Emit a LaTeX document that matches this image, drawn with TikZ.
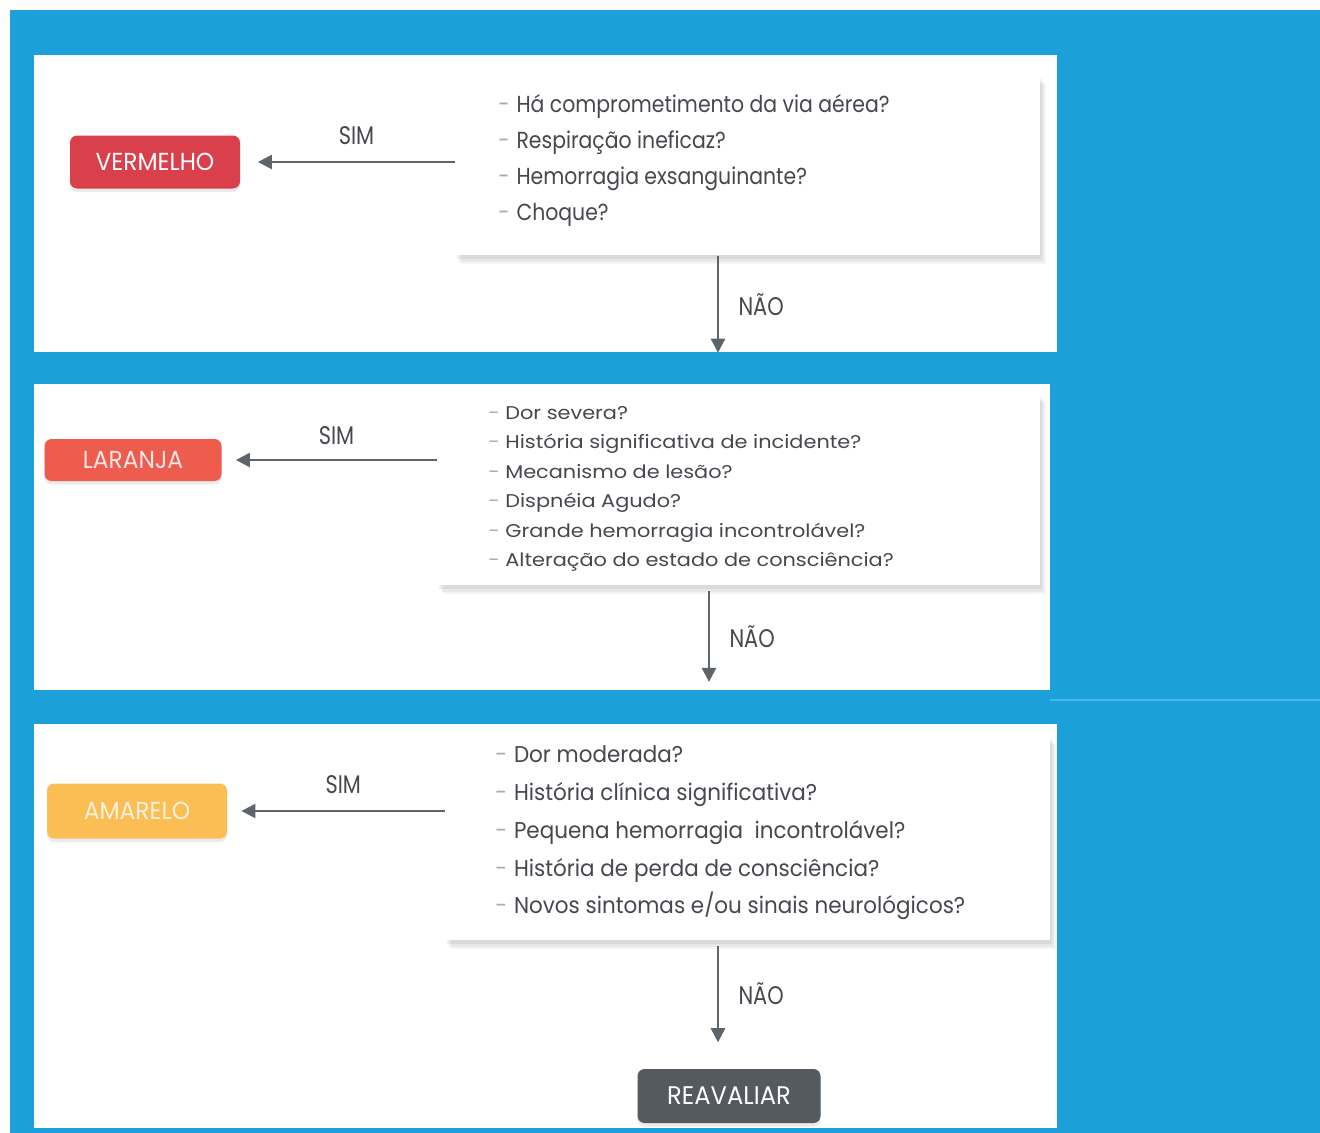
\documentclass[tikz,border=0pt]{standalone}
\usepackage{fontspec}
\setmainfont{Poppins}
\newfontfamily\fa[FakeStretch=0.88]{Poppins}
\newfontfamily\fb[FakeStretch=1.13]{Poppins}
\newfontfamily\fc[FakeStretch=0.94]{Poppins}
\newfontfamily\fl[FakeStretch=0.82]{Poppins}
\newfontfamily\ft[FakeStretch=0.95]{Poppins}
\usetikzlibrary{arrows.meta,shadows,calc}
\definecolor{bg}{RGB}{28,160,218}
\definecolor{bgline}{RGB}{70,185,235}
\definecolor{txt}{RGB}{70,72,78}
\definecolor{dashc}{RGB}{170,170,175}
\definecolor{arrc}{RGB}{95,100,106}
\definecolor{cred}{RGB}{217,64,76}
\definecolor{clar}{RGB}{238,92,78}
\definecolor{cama}{RGB}{250,190,85}
\definecolor{creav}{RGB}{85,90,96}
\newcommand\qb{{\color{dashc}-}\hspace{0.3em}}
\tikzset{
  panel/.style={fill=white, draw=none, inner sep=0pt, anchor=north west},
  card/.style={fill=white, draw=none, inner sep=0pt, anchor=north west,
    drop shadow={shadow xshift=3pt, shadow yshift=-5pt, opacity=0.04, fill=black},
    drop shadow={shadow xshift=2pt, shadow yshift=-3.5pt, opacity=0.05, fill=black},
    drop shadow={shadow xshift=1pt, shadow yshift=-2pt, opacity=0.06, fill=black}},
  qtext/.style={anchor=west, align=left, text=txt, inner sep=0pt},
  tag/.style={rounded corners=4pt, inner sep=0pt, text=white,
    drop shadow={shadow xshift=0pt, shadow yshift=-2pt, opacity=0.08, fill=black}},
  arr/.style={draw=arrc, line width=1.4pt, -{Triangle[length=8pt,width=8pt]}},
  lbl/.style={text=txt, inner sep=0pt, font=\fl\fontsize{14.5}{16}\selectfont}
}
\begin{document}
\begin{tikzpicture}[x=0.02cm,y=-0.02cm]
\def\pxu{0.02cm}
\useasboundingbox (0,0) rectangle (1320,1133);
\fill[white] (0,0) rectangle (1320,1133);
\fill[bg] (10,10) rectangle (1320,1133);
\draw[bgline, line width=0.6pt] (1050,700) -- (1320,700);
% panels
\node[panel, minimum width=1023*\pxu, minimum height=297*\pxu] (p1) at (34,55) {};
\node[panel, minimum width=1016*\pxu, minimum height=306*\pxu] (p2) at (34,384) {};
\node[panel, minimum width=1023*\pxu, minimum height=404*\pxu] (p3) at (34,724) {};
% cards
\node[card, minimum width=585*\pxu, minimum height=180*\pxu] (c1) at (455,75) {};
\node[card, minimum width=603*\pxu, minimum height=192*\pxu] (c2) at (437,393) {};
\node[card, minimum width=605*\pxu, minimum height=205*\pxu] (c3) at (445,735) {};
% question texts
\node[qtext, font=\fa\fontsize{13.2}{20.6}\selectfont] (t1) at (498,160.5)
 {\qb Há comprometimento da via aérea?\\ \qb Respiração ineficaz?\\ \qb Hemorragia exsanguinante?\\ \qb Choque?};
\node[qtext, font=\fb\fontsize{10.5}{16.8}\selectfont] (t2) at (488,489)
 {\qb Dor severa?\\ \qb História significativa de incidente?\\ \qb Mecanismo de lesão?\\ \qb Dispnéia Agudo?\\ \qb Grande hemorragia incontrolável?\\ \qb Alteração do estado de consciência?};
\node[qtext, font=\fc\fontsize{13}{21.5}\selectfont] (t3) at (495,833)
 {\qb Dor moderada?\\ \qb História clínica significativa?\\ \qb Pequena hemorragia\ \ incontrolável?\\ \qb História de perda de consciência?\\ \qb Novos sintomas e/ou sinais neurológicos?};
% tags
\node[tag, fill=cred, minimum width=170*\pxu, minimum height=53*\pxu, font=\ft\fontsize{14}{16}\selectfont] (red) at (155,162) {VERMELHO};
\node[tag, fill=clar, minimum width=177*\pxu, minimum height=42*\pxu, font=\ft\fontsize{14}{16}\selectfont, text=white!85!clar] (lar) at (133,460) {LARANJA};
\node[tag, fill=cama, minimum width=180*\pxu, minimum height=55*\pxu, font=\ft\fontsize{14}{16}\selectfont, text=white!80!cama] (ama) at (137,811) {AMARELO};
\node[tag, fill=creav, minimum width=183*\pxu, minimum height=54*\pxu, font=\ft\fontsize{14.5}{16}\selectfont] (reav) at (729,1096) {REAVALIAR};
% SIM arrows
\draw[arr] (c1.west |- red.east) -- node[lbl, midway, above=9pt] {SIM} ([xshift=10pt]red.east);
\draw[arr] (c2.west |- lar.east) -- node[lbl, midway, above=8pt] {SIM} ([xshift=8pt]lar.east);
\draw[arr] (c3.west |- ama.east) -- node[lbl, midway, above=9pt] {SIM} ([xshift=8pt]ama.east);
% NAO arrows
\coordinate (d1) at (718,0);
\coordinate (d2) at (709,0);
\coordinate (d3) at (718,0);
\draw[arr] (c1.south -| d1) -- node[lbl, midway, right=11pt] {NÃO} (p1.south -| d1);
\draw[arr] ([yshift=-3pt]c2.south -| d2) -- node[lbl, midway, right=11pt] {NÃO} ([yshift=5pt]p2.south -| d2);
\draw[arr] ([yshift=-3pt]c3.south -| d3) -- node[lbl, midway, right=11pt] {NÃO} ([yshift=15pt]reav.north -| d3);
\end{tikzpicture}
\end{document}
